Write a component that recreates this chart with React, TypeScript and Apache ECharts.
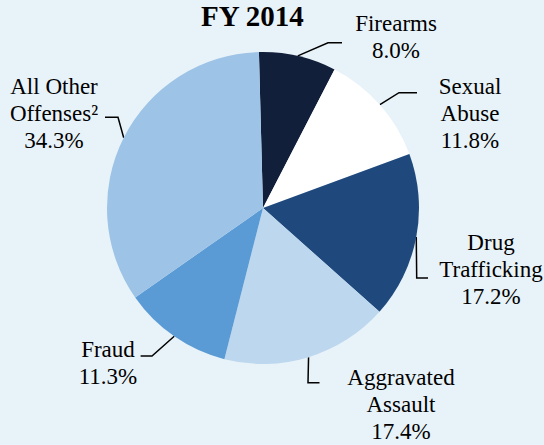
import React, { useEffect, useRef } from "react";
import * as echarts from "echarts";

const categories = ["Firearms", "Sexual Abuse", "Drug Trafficking", "Aggravated Assault", "Fraud", "All Other Offenses²"];
const labelTexts = ["Firearms", "Sexual\nAbuse", "Drug\nTrafficking", "Aggravated\nAssault", "Fraud", "All Other\nOffenses²"];
const shares = [8.0, 11.8, 17.2, 17.4, 11.3, 34.3];
const colors = ["#121f3a", "#ffffff", "#1f497d", "#bdd7ee", "#5b9bd5", "#9dc3e6"];
const title = "FY 2014";

const SERIF = "Liberation Serif";

// label anchor (centre of text block) and leader-line elbow/end, in pixels
const labelLayoutCfg = [
  { x: 396, y: 37, elbow: [328, 42.7], end: [342, 42.7] },
  { x: 470, y: 113, elbow: [399, 92.7], end: [417, 92.7] },
  { x: 491, y: 269, elbow: [416.7, 278], end: [428, 278] },
  { x: 401, y: 404, elbow: [308, 382.7], end: [319.5, 382.7] },
  { x: 108, y: 363, elbow: [152, 356], end: [140.6, 356] },
  { x: 54, y: 113, elbow: [118, 117.3], end: [105, 117.3] },
];

export default function App() {
  const ref = useRef<HTMLDivElement>(null);
  useEffect(() => {
    document.body.style.margin = "0";
    const chart = echarts.init(ref.current!, null, { renderer: "svg" });
    chart.setOption({
      animation: false,
      backgroundColor: "#e8f3f9",
      textStyle: { fontFamily: SERIF },
      title: {
        text: title,
        left: 201,
        top: 6,
        padding: 0,
        textStyle: {
          fontFamily: SERIF,
          fontWeight: "bold",
          fontSize: 29,
          lineHeight: 20,
          color: "#000",
        },
      },
      series: [
        {
          type: "pie",
          center: [263, 208],
          radius: 156,
          startAngle: 91.5,
          clockwise: true,
          avoidLabelOverlap: false,
          itemStyle: { borderWidth: 0 },
          emphasis: { disabled: true },
          label: {
            show: true,
            position: "outside",
            formatter: (p: any) => `${labelTexts[p.dataIndex]}\n${p.value.toFixed(1)}%`,
            fontFamily: SERIF,
            fontSize: 23,
            lineHeight: 27,
            color: "#000",
            align: "center",
          },
          labelLine: {
            show: true,
            smooth: false,
            lineStyle: { color: "#000", width: 1.5 },
          },
          labelLayout: (params: any) => {
            const c = labelLayoutCfg[params.dataIndex];
            const start = params.labelLinePoints ? params.labelLinePoints[0] : c.elbow;
            return {
              x: c.x,
              y: c.y,
              align: "center",
              verticalAlign: "middle",
              labelLinePoints: [start, c.elbow, c.end],
            };
          },
          data: categories.map((name, i) => ({
            name,
            value: shares[i],
            itemStyle: { color: colors[i] },
          })),
        },
      ],
    });
    return () => chart.dispose();
  }, []);
  return <div ref={ref} style={{ width: 544, height: 445 }} />;
}
